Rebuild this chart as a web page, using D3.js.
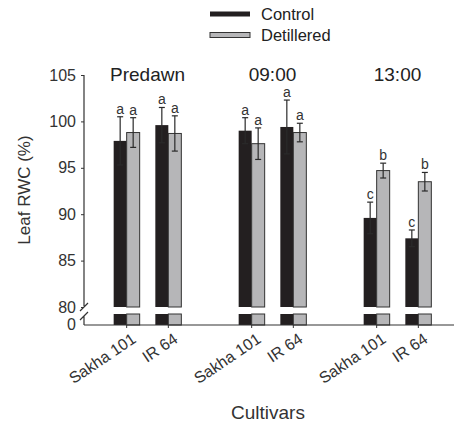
<!DOCTYPE html>
<html>
<head>
<meta charset="utf-8">
<script src="https://cdn.jsdelivr.net/npm/d3@7"></script>
<style>
  body { margin: 0; background: #fff; }
  svg { font-family: "Liberation Sans", Arial, sans-serif; }
</style>
</head>
<body>
<div id="chart"></div>
<script>
// data
const times = ["Predawn", "09:00", "13:00"];
const cultivars = ["Sakha 101", "IR 64"];
const series = ["Control", "Detillered"];
const controlMean = [97.9, 99.6, 99.0, 99.4, 89.6, 87.4];
const controlErr  = [2.6, 1.9, 1.4, 2.9, 1.7, 0.9];
const detMean     = [98.8, 98.7, 97.6, 98.8, 94.7, 93.5];
const detErr      = [1.6, 1.9, 1.7, 1.0, 0.8, 1.0];
const controlLetters = ["a", "a", "a", "a", "c", "c"];
const detLetters     = ["a", "a", "a", "a", "b", "b"];
const yTicks = [80, 85, 90, 95, 100, 105];

const width = 454, height = 426;
const colors = { Control: "#231f20", Detillered: "#b6b6b8" };

const svg = d3.select("#chart").append("svg")
    .attr("width", width)
    .attr("height", height);

const axisX = 84, baseY = 325, breakTop = 307, breakBot = 314;

const y = d3.scaleLinear().domain([80, 105]).range([breakTop, 75]);
const xGroup = d3.scaleBand().domain(times).range([85, 460]);
const xCult = d3.scalePoint().domain(cultivars).range([0, xGroup.bandwidth()]).padding(1);
const xSer = d3.scaleBand().domain(series).range([-13, 13]);

// flatten into bar records
const bars = [];
times.forEach((t, ti) => {
    cultivars.forEach((c, ci) => {
        const i = ti * cultivars.length + ci;
        const cx = xGroup(t) + xCult(c);
        bars.push({ s: "Control", x: cx + xSer("Control"), v: controlMean[i], e: controlErr[i], l: controlLetters[i] });
        bars.push({ s: "Detillered", x: cx + xSer("Detillered"), v: detMean[i], e: detErr[i], l: detLetters[i] });
    });
});
const bw = xSer.bandwidth();

// bars (upper and lower piece around the break)
const g = svg.append("g");
g.selectAll(".bar-top").data(bars).join("rect")
    .attr("x", d => d.x)
    .attr("y", d => y(d.v))
    .attr("width", bw)
    .attr("height", d => y(80) - y(d.v))
    .attr("fill", d => colors[d.s])
    .attr("stroke", "#333")
    .attr("stroke-width", d => d.s === "Control" ? 0 : 1);
g.selectAll(".bar-bot").data(bars).join("rect")
    .attr("x", d => d.x)
    .attr("y", breakBot)
    .attr("width", bw)
    .attr("height", baseY - breakBot)
    .attr("fill", d => colors[d.s])
    .attr("stroke", "#333")
    .attr("stroke-width", d => d.s === "Control" ? 0 : 1);

// error bars
const eb = g.selectAll(".err").data(bars).join("g")
    .attr("stroke", "#2a2a2a")
    .attr("stroke-width", 1.2);
eb.append("line")
    .attr("x1", d => d.x + bw / 2).attr("x2", d => d.x + bw / 2)
    .attr("y1", d => y(d.v - d.e)).attr("y2", d => y(d.v + d.e));
eb.append("line")
    .attr("x1", d => d.x + bw / 2 - 3).attr("x2", d => d.x + bw / 2 + 3)
    .attr("y1", d => y(d.v + d.e)).attr("y2", d => y(d.v + d.e));
eb.append("line")
    .attr("x1", d => d.x + bw / 2 - 3).attr("x2", d => d.x + bw / 2 + 3)
    .attr("y1", d => y(d.v - d.e)).attr("y2", d => y(d.v - d.e));

// significance letters
g.selectAll(".letter").data(bars).join("text")
    .attr("x", d => d.x + bw / 2)
    .attr("y", d => y(d.v + d.e) - 3)
    .attr("text-anchor", "middle")
    .attr("font-size", 14)
    .attr("fill", "#333")
    .text(d => d.l);

// y axis with break
const yAxis = d3.axisLeft(y).tickValues(yTicks).tickSize(3).tickPadding(5);
const ya = svg.append("g").attr("transform", `translate(${axisX},0)`).call(yAxis);
ya.select(".domain").remove();
ya.selectAll("text").attr("font-size", 16).attr("fill", "#333");
ya.selectAll("line").attr("stroke", "#333");
svg.append("path")
    .attr("d", `M${axisX},75V306M${axisX - 4},311L${axisX + 4},303M${axisX - 4},320L${axisX + 4},312M${axisX},316V${baseY}`)
    .attr("fill", "none").attr("stroke", "#333").attr("stroke-width", 1.2);
svg.append("text")
    .attr("x", axisX - 8).attr("y", baseY).attr("dy", "0.32em")
    .attr("text-anchor", "end").attr("font-size", 16).attr("fill", "#333")
    .text("0");

// x axis
svg.append("line")
    .attr("x1", axisX).attr("x2", width).attr("y1", baseY).attr("y2", baseY)
    .attr("stroke", "#333").attr("stroke-width", 1.2);
const cats = [];
times.forEach(t => cultivars.forEach(c => cats.push({ t, c, x: xGroup(t) + xCult(c) })));
const xt = svg.selectAll(".xt").data(cats).join("g")
    .attr("transform", d => `translate(${d.x},${baseY})`);
xt.append("line").attr("y2", 3).attr("stroke", "#333");
xt.append("text")
    .attr("transform", "translate(4,7) rotate(-34)")
    .attr("text-anchor", "end")
    .attr("dy", "0.72em")
    .attr("font-size", 16)
    .attr("fill", "#333")
    .text(d => d.c);

// time-of-day labels
svg.selectAll(".time").data(times).join("text")
    .attr("x", d => xGroup(d) + xGroup.bandwidth() / 2)
    .attr("y", 81)
    .attr("text-anchor", "middle")
    .attr("font-size", 19)
    .attr("fill", "#222")
    .text(d => d);

// axis titles
svg.append("text")
    .attr("transform", "translate(30,190) rotate(-90)")
    .attr("text-anchor", "middle")
    .attr("font-size", 17)
    .attr("fill", "#333")
    .text("Leaf RWC (%)");
svg.append("text")
    .attr("x", 268).attr("y", 419)
    .attr("text-anchor", "middle")
    .attr("font-size", 19)
    .attr("fill", "#333")
    .text("Cultivars");

// legend
const lg = svg.append("g").attr("transform", "translate(210,0)");
series.forEach((s, i) => {
    const row = lg.append("g").attr("transform", `translate(0,${14 + i * 21})`);
    row.append("rect")
        .attr("x", 0).attr("y", -2.5).attr("width", 40).attr("height", 5)
        .attr("fill", colors[s])
        .attr("stroke", "#333").attr("stroke-width", s === "Control" ? 0 : 1);
    row.append("text")
        .attr("x", 51).attr("y", 0).attr("dy", "0.35em")
        .attr("font-size", 16.5).attr("fill", "#222")
        .text(s);
});
</script>
</body>
</html>
